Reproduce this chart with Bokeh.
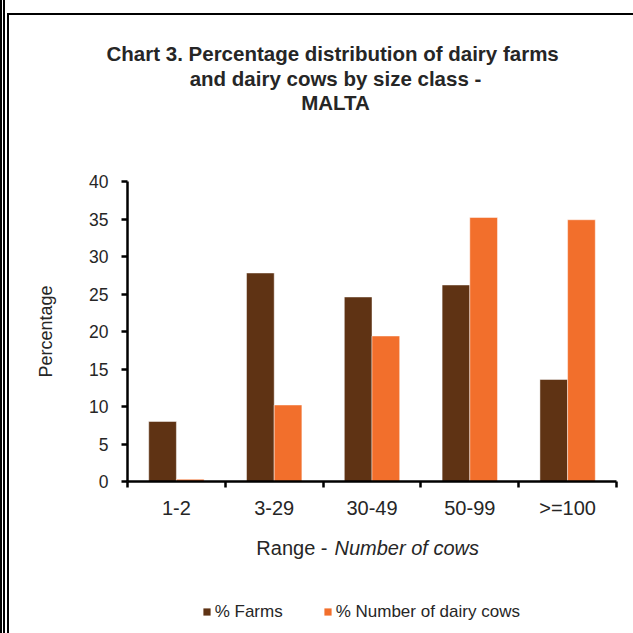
from bokeh.plotting import figure
from bokeh.models import (Range1d, FixedTicker, Legend, LegendItem, ColumnDataSource)
from bokeh.core.properties import value
from bokeh.transform import dodge
from bokeh.layouts import column
from bokeh.embed import file_html
from bokeh.resources import INLINE

# ---------------- data ----------------
categories = ["1-2", "3-29", "30-49", "50-99", ">=100"]
farms_pct = [8.0, 27.8, 24.6, 26.2, 13.6]
cows_pct = [0.3, 10.2, 19.4, 35.2, 34.9]
y_ticks = [0, 5, 10, 15, 20, 25, 30, 35, 40]
title_lines = ["Chart 3.  Percentage distribution of dairy farms",
               "and dairy cows by size class -",
               "MALTA"]
x_title_plain = "Range -"
x_title_italic = "Number of cows"
y_title = "Percentage"
series_names = ["% Farms", "% Number of dairy cows"]

# ---------------- style / layout ----------------
BROWN = "#5f3314"
ORANGE = "#f26f2c"
TXT = "#262626"
FONT = "Liberation Sans"
BAR_W = 0.283

OX, OY = 9, 15                 # content origin on page
W = 624
HH, HM, HF = 120, 386, 112     # header / main / footer heights
FL, FR, FT, FB = 126.7, 616, 181, 481   # plot frame on page


def unaligned(fig):
    try:
        fig.frame_align = False
    except Exception:
        pass
    return fig


# ---------------- header (title) ----------------
hdr = unaligned(figure(width=W, height=HH, output_backend="svg", toolbar_location=None,
                       x_range=Range1d(0, W), y_range=Range1d(HH, 0),
                       x_axis_type=None, y_axis_type=None, min_border=0))
hdr.outline_line_color = None
hdr.text(x=[335 - OX] * 3, y=[y - OY for y in (53, 77.7, 101.7)], text=title_lines,
         text_align="center", text_baseline="middle", text_font=value(FONT),
         text_font_size="20.5px", text_font_style="bold", text_color=TXT)

# ---------------- main chart ----------------
x_centers = [i + 0.5 for i in range(len(categories))]
src = ColumnDataSource(dict(x=x_centers, farms=farms_pct, cows=cows_pct))

top_of_main = OY + HH
p = figure(width=W, height=HM, output_backend="svg", toolbar_location=None,
           x_range=Range1d(0, len(categories)), y_range=Range1d(0, 40),
           min_border_left=int(round(FL - OX)), min_border_right=int(round(OX + W - FR)),
           min_border_top=int(round(FT - top_of_main)),
           min_border_bottom=int(round(top_of_main + HM - FB)))
p.outline_line_color = None
p.xgrid.visible = False
p.ygrid.visible = False

bar_style = dict(width=BAR_W, source=src, line_color="white", line_alpha=0.45, line_width=1)
r1 = p.vbar(x=dodge("x", -BAR_W / 2), top="farms", fill_color=BROWN, **bar_style)
r2 = p.vbar(x=dodge("x", BAR_W / 2), top="cows", fill_color=ORANGE, **bar_style)

ya = p.yaxis[0]
ya.ticker = FixedTicker(ticks=y_ticks)
ya.axis_line_width = 2.5
ya.axis_line_color = "black"
ya.major_tick_line_width = 2.5
ya.major_tick_line_color = "black"
ya.major_tick_out = 6
ya.major_tick_in = 0
ya.minor_tick_line_color = None
ya.major_label_text_font = FONT
ya.major_label_text_font_size = "17.5px"
ya.major_label_text_color = TXT
ya.major_label_standoff = 13
ya.axis_label = y_title
ya.axis_label_text_font = FONT
ya.axis_label_text_font_size = "18px"
ya.axis_label_text_font_style = "normal"
ya.axis_label_text_color = TXT
ya.axis_label_standoff = 30

xa = p.xaxis[0]
xa.ticker = FixedTicker(ticks=x_centers, minor_ticks=list(range(len(categories) + 1)))
xa.major_label_overrides = {float(x): c for x, c in zip(x_centers, categories)}
xa.axis_line_width = 2.5
xa.axis_line_color = "black"
xa.major_tick_line_color = None
xa.minor_tick_line_color = "black"
xa.minor_tick_line_width = 2.5
xa.minor_tick_out = 6
xa.minor_tick_in = 0
xa.major_label_text_font = FONT
xa.major_label_text_font_size = "20px"
xa.major_label_text_color = TXT
xa.major_label_standoff = 9

# ---------------- footer (x title + legend) ----------------
top_of_footer = top_of_main + HM
ftr = unaligned(figure(width=W, height=HF, output_backend="svg", toolbar_location=None,
                       x_range=Range1d(0, W), y_range=Range1d(HF, 0),
                       x_axis_type=None, y_axis_type=None, min_border=0))
ftr.outline_line_color = None
ftr.text(x=[327 - OX], y=[547 - top_of_footer], text=[x_title_plain], text_align="right",
         text_baseline="middle", text_font=value(FONT), text_font_size="20px",
         text_color=TXT)
ftr.text(x=[334 - OX], y=[547 - top_of_footer], text=[x_title_italic], text_align="left",
         text_baseline="middle", text_font=value(FONT), text_font_size="20px",
         text_font_style="italic", text_color=TXT)

# legend swatches: hidden copies of the two bar series
lg1 = ftr.vbar(x="x", top="farms", width=BAR_W, source=src, fill_color=BROWN,
               line_color=None, visible=False)
lg2 = ftr.vbar(x="x", top="cows", width=BAR_W, source=src, fill_color=ORANGE,
               line_color=None, visible=False)
LEG_H = 20
legend = Legend(items=[LegendItem(label=series_names[0], renderers=[lg1]),
                       LegendItem(label=series_names[1], renderers=[lg2])],
                orientation="horizontal",
                location=(201.7 - OX, HF - (601.7 - top_of_footer) - LEG_H),
                glyph_width=9, glyph_height=9, label_standoff=4, spacing=40,
                padding=0, margin=0, border_line_color=None, background_fill_alpha=0,
                inactive_fill_alpha=0,
                label_text_font=FONT, label_text_font_size="17px", label_text_color=TXT,
                label_height=LEG_H)
ftr.add_layout(legend, "center")

inner = column(column(hdr), p, column(ftr),
               styles={"border-left": "2px solid black", "border-top": "2px solid black",
                       "margin-top": "13px"})
page = column(inner, styles={"border-left": "5px double black", "padding-left": "2px"})

open("out.html", "w").write(file_html(page, INLINE))
